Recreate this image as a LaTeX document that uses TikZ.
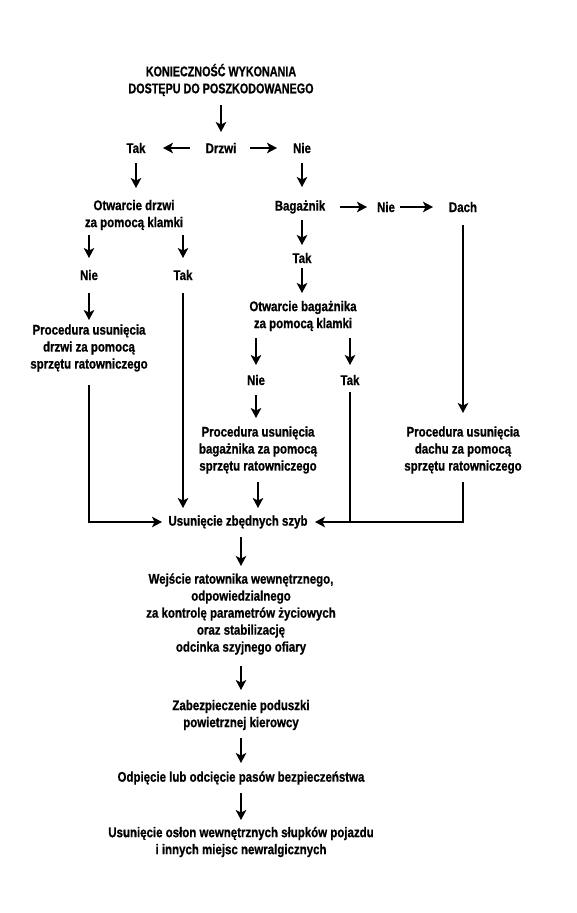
\documentclass[tikz,border=0pt]{standalone}
\usepackage{fontspec}
\setmainfont{Liberation Sans}[FakeStretch=0.82,FakeBold=0.8]
\newfontfamily\titlefont{Liberation Sans}[FakeStretch=0.77,FakeBold=0.8]
\usetikzlibrary{arrows.meta}
\begin{document}
\begin{tikzpicture}[x=1pt,y=-1pt,
  txt/.style={font=\fontsize{14}{17}\selectfont\bfseries, align=center, inner sep=0pt},
  ln/.style={line width=2.6pt},
  arr/.style={line width=2.6pt, -{Stealth[length=10pt,width=10.5pt,inset=2.5pt]}}]
\useasboundingbox (0,0) rectangle (577,913);
\fill[white] (0,0) rectangle (577,913);
% nodes
\node[txt, font=\fontsize{14}{17}\selectfont\titlefont\bfseries] (title) at (221,80) {KONIECZNOŚĆ WYKONANIA\\DOSTĘPU DO POSZKODOWANEGO};
\node[txt] (drzwi) at (221,148) {Drzwi};
\node[txt] (tak1) at (136,148) {Tak};
\node[txt] (nie1) at (302,148) {Nie};
\node[txt] (otwd) at (134,215) {Otwarcie drzwi\\za pomocą klamki};
\node[txt] (bag) at (300,207) {Bagażnik};
\node[txt] (nie4) at (386,207) {Nie};
\node[txt] (dach) at (463,207) {Dach};
\node[txt] (nie2) at (89,275) {Nie};
\node[txt] (tak2) at (183,275) {Tak};
\node[txt] (procd) at (89,348) {Procedura usunięcia\\drzwi za pomocą\\sprzętu ratowniczego};
\node[txt] (tak3) at (302,258) {Tak};
\node[txt] (otwb) at (303,316) {Otwarcie bagażnika\\za pomocą klamki};
\node[txt] (nie3) at (256,380) {Nie};
\node[txt] (tak4) at (350,380) {Tak};
\node[txt] (procb) at (258,450) {Procedura usunięcia\\bagażnika za pomocą\\sprzętu ratowniczego};
\node[txt] (procc) at (463,450) {Procedura usunięcia\\dachu za pomocą\\sprzętu ratowniczego};
\node[txt] (usz) at (238,522) {Usunięcie zbędnych szyb};
\node[txt] (wej) at (241,614) {Wejście ratownika wewnętrznego,\\odpowiedzialnego\\za kontrolę parametrów życiowych\\oraz stabilizację\\odcinka szyjnego ofiary};
\node[txt] (zab) at (241,715) {Zabezpieczenie poduszki\\powietrznej kierowcy};
\node[txt] (odp) at (241,778) {Odpięcie lub odcięcie pasów bezpieczeństwa};
\node[txt] (usos) at (241,842) {Usunięcie osłon wewnętrznych słupków pojazdu\\i innych miejsc newralgicznych};
% connectors
\draw[arr, shorten <=25pt, shorten >=16pt] (title.center) -- (drzwi.center);
\draw[arr, shorten <=31pt, shorten >=27pt] (drzwi.center) -- (tak1.center);
\draw[arr, shorten <=29pt, shorten >=25pt] (drzwi.center) -- (nie1.center);
\draw[arr, shorten <=15pt, shorten >=27pt] (tak1.center) -- (tak1 |- otwd);
\draw[arr, shorten <=15pt, shorten >=20pt] (nie1.center) -- (nie1 |- bag);
\draw[arr, shorten <=40pt, shorten >=19pt] (bag.center) -- (nie4.center);
\draw[arr, shorten <=14pt, shorten >=30pt] (nie4.center) -- (dach.center);
\draw[arr, shorten <=20pt, shorten >=17pt] (nie2 |- otwd) -- (nie2.center);
\draw[arr, shorten <=20pt, shorten >=17pt] (tak2 |- otwd) -- (tak2.center);
\draw[arr, shorten <=18pt, shorten >=28pt] (nie2.center) -- (nie2 |- procd);
\draw[arr, shorten <=18pt, shorten >=14pt] (tak2.center) -- (tak2 |- usz);
\draw[arr, shorten <=37pt, shorten >=76pt] (procd.center) -- (procd |- usz) -- (usz.center);
\draw[arr, shorten <=13pt, shorten >=13pt] (tak3 |- bag) -- (tak3.center);
\draw[arr, shorten <=10pt, shorten >=23pt] (tak3.center) -- (tak3 |- otwb);
\draw[arr, shorten <=22pt, shorten >=15pt] (nie3 |- otwb) -- (nie3.center);
\draw[arr, shorten <=22pt, shorten >=15pt] (tak4 |- otwb) -- (tak4.center);
\draw[arr, shorten <=15pt, shorten >=32pt] (nie3.center) -- (nie3 |- procb);
\draw[arr, shorten <=32pt, shorten >=14pt] (procb.center) -- (procb |- usz);
\draw[arr, shorten <=18pt, shorten >=37pt] (dach.center) -- (procc.center);
\draw[arr, shorten <=32pt, shorten >=77pt] (procc.center) -- (procc |- usz) -- (usz.center);
\draw[ln, shorten <=12pt] (tak4.center) -- (tak4 |- usz);
\draw[arr, shorten <=15pt, shorten >=48pt] (usz -| wej) -- (wej.center);
\draw[arr, shorten <=52pt, shorten >=25pt] (wej.center) -- (zab.center);
\draw[arr, shorten <=23pt, shorten >=15pt] (zab.center) -- (odp.center);
\draw[arr, shorten <=15pt, shorten >=22pt] (odp.center) -- (usos.center);
\end{tikzpicture}
\end{document}
